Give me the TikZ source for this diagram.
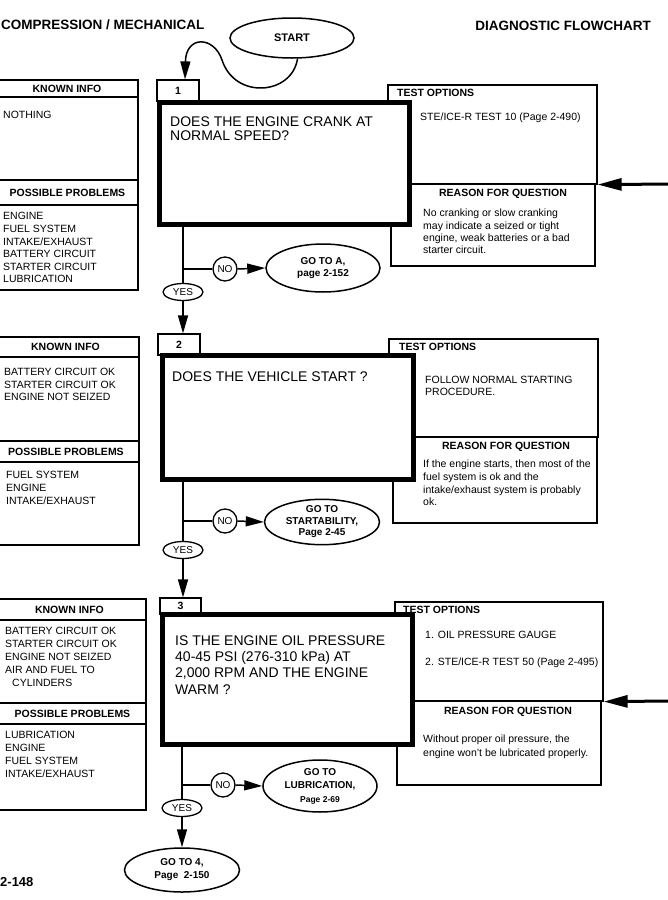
\documentclass[tikz,border=0pt]{standalone}
\usepackage{fontspec}
\setmainfont{Liberation Sans}
\usetikzlibrary{arrows.meta,shapes.geometric}
\newcommand\fs[2]{\fontsize{#1}{#2}\selectfont}
\tikzset{
  box/.style={draw, line width=1.2pt, rectangle, inner sep=0pt},
  sepline/.style={line width=1.2pt},
  qbox/.style={draw, line width=5pt, fill=white, rectangle, inner sep=0pt},
  conn/.style={line width=1.5pt},
  arr/.style={-{Triangle[length=18pt,width=10pt]}},
  bigarr/.style={line width=3pt, -{Triangle[length=24pt,width=12pt]}},
  t/.style={inner sep=0pt, font=\fs{10.5}{12.6}, text height=7.52pt, text depth=0pt},
  th/.style={t, font=\bfseries\fs{10.5}{12.6}},
  lst/.style={anchor=north west, inner sep=0pt, align=left, font=\fs{10.5}{12.6}},
  oval/.style={ellipse, draw, line width=1.5pt, inner sep=0pt, align=center, font=\bfseries\fs{10}{11.5}},
  circ/.style={circle, draw, line width=1.3pt, minimum size=24pt, inner sep=0pt, font=\fs{10}{12}},
  yesov/.style={ellipse, draw, line width=1.3pt, minimum width=40pt, minimum height=17pt, inner sep=0pt, font=\fs{10}{12}},
  ttl/.style={inner sep=0pt, font=\bfseries\fs{13.5}{15}, text height=9.67pt, text depth=0pt}
}
\begin{document}
\begin{tikzpicture}[x=1pt,y=-1pt]
\useasboundingbox (0,0) rectangle (667,900);

% ---------- titles ----------
\node[ttl, anchor=west] (title) at (1,25) {COMPRESSION / MECHANICAL};
\node[ttl, anchor=east] (title2) at (651,25.5) {DIAGNOSTIC FLOWCHART};
\node[oval, minimum width=124pt, minimum height=40pt, font=\bfseries\fs{11}{13}] (start) at (292,38) {START};

% ================= SECTION 1 =================
\node[box, minimum width=143pt, minimum height=210pt] (ki1) at (66.5,185) {};
\draw[sepline] (-5,97) -- (138,97);
\draw[sepline] (-5,180) -- (138,180);
\draw[sepline] (-5,205) -- (138,205);
\node[th] (ki1h) at (67,88.5) {KNOWN INFO};
\node[t, anchor=west] (ki1t) at (3,115) {NOTHING};
\node[th] (pp1h) at (67.5,192.5) {POSSIBLE PROBLEMS};
\node[lst] (pp1t) at (3,210.94) {\strut ENGINE\\FUEL SYSTEM\\INTAKE/EXHAUST\\BATTERY CIRCUIT\\STARTER CIRCUIT\\LUBRICATION};

\node[box, minimum width=209pt, minimum height=99pt] (tb1) at (492.5,134.5) {};
\node[box, minimum width=204pt, minimum height=82pt] (rb1) at (493,225) {};
\node[th, anchor=west] (tb1h) at (397,93) {TEST OPTIONS};
\node[t, anchor=west] (tb1t) at (420,117) {STE/ICE-R TEST 10 (Page 2-490)};
\node[th] (rb1h) at (503,193) {REASON FOR QUESTION};
\node[lst, font=\fs{10.5}{12.3}] (rb1t) at (423,208.15) {\strut No cranking or slow cranking\\may indicate a seized or tight\\engine, weak batteries or a bad\\starter circuit.};

\node[qbox, minimum width=250pt, minimum height=122pt] (q1) at (284.5,163.5) {};
\node[lst, font=\fs{14}{14}] (q1t) at (170,116.2) {\strut DOES THE ENGINE CRANK AT\\NORMAL SPEED?};
\node[box, minimum width=42pt, minimum height=21pt, font=\bfseries\fs{10.5}{12}] (n1) at (178,90.5) {1};

\node[oval, minimum width=114pt, minimum height=48pt] (g1) at (323,268) {GO TO A,\\page 2-152};
\node[circ] (no1) at (225,269) {NO};
\node[yesov] (yes1) at (183,292) {YES};

\draw[conn, arr] (start.285) .. controls (292,95) and (235,100) .. (222,60) .. controls (214,36) and (186,35) .. ([xshift=7pt]n1.north);
\draw[conn] (q1.south -| yes1.north) -- (yes1.north);
\draw[conn] (yes1.north |- no1.west) -- (no1.west);
\draw[conn, arr] (no1.east) -- (g1.west);
\coordinate (e1) at (672,184);
\draw[bigarr] (e1) -- (tb1.south east);

% ================= SECTION 2 =================
\node[box, minimum width=144pt, minimum height=208pt] (ki2) at (67,441) {};
\draw[sepline] (-5,357) -- (139,357);
\draw[sepline] (-5,441) -- (139,441);
\draw[sepline] (-5,462) -- (139,462);
\node[th] (ki2h) at (65.5,347) {KNOWN INFO};
\node[lst, font=\fs{10.5}{12.2}] (ki2t) at (4,367.2) {\strut BATTERY CIRCUIT OK\\STARTER CIRCUIT OK\\ENGINE NOT SEIZED};
\node[th] (pp2h) at (66,451.5) {POSSIBLE PROBLEMS};
\node[lst, font=\fs{10.5}{13}] (pp2t) at (6,468.7) {\strut FUEL SYSTEM\\ENGINE\\INTAKE/EXHAUST};

\node[box, minimum width=209pt, minimum height=98pt] (tb2) at (493.5,388) {};
\node[box, minimum width=204pt, minimum height=86pt] (rb2) at (495,480) {};
\node[th, anchor=west] (tb2h) at (399,347) {TEST OPTIONS};
\node[lst, font=\fs{10.5}{12}] (tb2t) at (425,374.4) {\strut FOLLOW NORMAL STARTING\\PROCEDURE.};
\node[th] (rb2h) at (506,446) {REASON FOR QUESTION};
\node[lst, font=\fs{10.5}{12.6}] (rb2t) at (423,458.9) {\strut If the engine starts, then most of the\\fuel system is ok and the\\intake/exhaust system is probably\\ok.};

\node[qbox, minimum width=251pt, minimum height=124pt] (q2) at (288,417.5) {};
\node[lst, font=\fs{14}{14}] (q2t) at (172,371.2) {\strut DOES THE VEHICLE START ?};
\node[box, minimum width=42pt, minimum height=21pt, font=\bfseries\fs{10.5}{12}] (n2) at (179,344.5) {2};

\node[oval, minimum width=115pt, minimum height=42pt] (g2) at (322,522) {GO TO\\STARTABILITY,\\Page 2-45};
\node[circ] (no2) at (225,521) {NO};
\node[yesov] (yes2) at (183,550) {YES};

\draw[conn, arr] (yes1.south) -- (yes1.south |- n2.north);
\draw[conn] (q2.south -| yes2.north) -- (yes2.north);
\draw[conn] (yes2.north |- no2.west) -- (no2.west);
\draw[conn, arr] (no2.east) -- (g2.west);

% ================= SECTION 3 =================
\node[box, minimum width=151pt, minimum height=211pt] (ki3) at (70.5,704.5) {};
\draw[sepline] (-5,620) -- (146,620);
\draw[sepline] (-5,703) -- (146,703);
\draw[sepline] (-5,724) -- (146,724);
\node[th] (ki3h) at (69.5,609.5) {KNOWN INFO};
\node[lst, font=\fs{10.5}{13}] (ki3t) at (5,624.7) {\strut BATTERY CIRCUIT OK\\STARTER CIRCUIT OK\\ENGINE NOT SEIZED\\AIR AND FUEL TO\\\hspace*{7pt}CYLINDERS};
\node[th] (pp3h) at (72.5,713.5) {POSSIBLE PROBLEMS};
\node[lst, font=\fs{10.5}{12.7}] (pp3t) at (5,729.9) {\strut LUBRICATION\\ENGINE\\FUEL SYSTEM\\INTAKE/EXHAUST};

\node[box, minimum width=208pt, minimum height=99pt] (tb3) at (499,651.5) {};
\node[box, minimum width=204pt, minimum height=84pt] (rb3) at (499,743) {};
\node[th, anchor=west] (tb3h) at (403,610) {TEST OPTIONS};
\node[t, anchor=west] (tb3a) at (425,635) {1. OIL PRESSURE GAUGE};
\node[t, anchor=west] (tb3b) at (425,662) {2. STE/ICE-R TEST 50 (Page 2-495)};
\node[th] (rb3h) at (508,711) {REASON FOR QUESTION};
\node[lst, font=\fs{10.5}{14}] (rb3t) at (423,732.96) {\strut Without proper oil pressure, the\\engine won't be lubricated properly.};

\node[qbox, minimum width=250pt, minimum height=130pt] (q3) at (287.5,679.5) {};
\node[lst, font=\fs{14}{16.3}] (q3t) at (175,633.6) {\strut IS THE ENGINE OIL PRESSURE\\40-45 PSI (276-310 kPa) AT\\2,000 RPM AND THE ENGINE\\WARM ?};
\node[box, minimum width=41pt, minimum height=16pt, font=\bfseries\fs{10.5}{12}] (n3) at (180.5,606) {3};

\node[oval, minimum width=114pt, minimum height=52pt, font=\bfseries\fs{10}{13.5}] (g3) at (320,786) {GO TO\\LUBRICATION,\\{\fs{8.5}{13.5}Page 2-69}};
\node[circ] (no3) at (223,785) {NO};
\node[yesov] (yes3) at (182,808) {YES};
\node[oval, minimum width=115pt, minimum height=44pt, font=\bfseries\fs{10}{13}] (g4) at (182,870) {GO TO 4,\\Page\ \ 2-150};

\draw[conn, arr] (yes2.south) -- (yes2.south |- n3.north);
\draw[conn] (q3.south -| yes3.north) -- (yes3.north);
\draw[conn] (yes3.north |- no3.west) -- (no3.west);
\draw[conn, arr] (no3.east) -- (g3.west);
\draw[conn, arr] (yes3.south) -- (g4.north);
\coordinate (e3) at (672,701);
\draw[bigarr] (e3) -- (tb3.south east);

\node[anchor=west, inner sep=0pt, font=\bfseries\fs{13}{15}, text height=9.3pt, text depth=0pt] (pg) at (0,882) {2-148};
\end{tikzpicture}
\end{document}
